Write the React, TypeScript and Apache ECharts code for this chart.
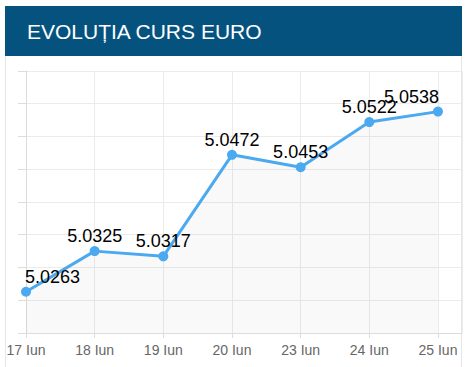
import React, { useEffect, useRef } from "react";
import * as echarts from "echarts";

const title = "EVOLUȚIA CURS EURO";
const categories = ["17 Iun", "18 Iun", "19 Iun", "20 Iun", "23 Iun", "24 Iun", "25 Iun"];
const values = [5.0263, 5.0325, 5.0317, 5.0472, 5.0453, 5.0522, 5.0538];
const yMin = 5.02;
const yMax = 5.06;
const yInterval = 0.005;

export default function App() {
  const ref = useRef<HTMLDivElement>(null);
  useEffect(() => {
    document.body.style.margin = "0";
    const chart = echarts.init(ref.current!, null, { renderer: "svg" });
    const font = "'Liberation Sans', Arial, sans-serif";
    const last = categories.length - 1;
    const data = values.map((v, i) => {
      const item: any = { value: [i, v] };
      if (i === 0) item.label = { align: "left", offset: [-1, 0] };
      if (i === last) item.label = { align: "right", offset: [1, 0] };
      return item;
    });
    chart.setOption({
      animation: false,
      backgroundColor: "#ffffff",
      textStyle: { fontFamily: font },
      grid: { left: 26, right: 6, top: 71, bottom: 34, containLabel: false },
      xAxis: {
        type: "value",
        min: 0,
        max: 6.35,
        interval: 1,
        axisLine: { show: true, lineStyle: { color: "#dcdcdc", width: 1 } },
        axisTick: { show: true, length: 5, lineStyle: { color: "#dcdcdc" } },
        splitLine: { show: true, lineStyle: { color: "#ebebeb", width: 1 } },
        axisLabel: {
          color: "#666666",
          fontSize: 14,
          margin: 10,
          fontFamily: font,
          showMaxLabel: false,
          formatter: (v: number) => (Number.isInteger(v) && categories[v] ? categories[v] : ""),
        },
      },
      yAxis: {
        type: "value",
        min: yMin,
        max: yMax,
        interval: yInterval,
        axisLine: { show: true, lineStyle: { color: "#dcdcdc", width: 1 } },
        axisTick: { show: true, length: 8, lineStyle: { color: "#dcdcdc" } },
        splitLine: { show: true, lineStyle: { color: "#ebebeb", width: 1 } },
        axisLabel: { show: false },
      },
      graphic: [
        {
          type: "rect",
          shape: { x: 5, y: 6, width: 457, height: 50 },
          style: { fill: "#05527f" },
          z: 10,
        },
        {
          type: "text",
          x: 27,
          y: 31,
          style: {
            text: title,
            fill: "#ffffff",
            font: `21px ${font}`,
            verticalAlign: "middle",
            align: "left",
          },
          z: 11,
        },
        {
          type: "line",
          shape: { x1: 5.5, y1: 56, x2: 5.5, y2: 367 },
          style: { stroke: "#e6e6e6", lineWidth: 1 },
        },
        {
          type: "line",
          shape: { x1: 461.5, y1: 56, x2: 461.5, y2: 367 },
          style: { stroke: "#e6e6e6", lineWidth: 1 },
        },
      ],
      series: [
        {
          type: "line",
          data,
          symbol: "circle",
          symbolSize: 10,
          itemStyle: { color: "#4aa9ef" },
          lineStyle: { color: "#4aa9ef", width: 3 },
          areaStyle: { color: "rgba(0,0,0,0.035)", origin: "start" },
          label: {
            show: true,
            position: "top",
            distance: 1,
            color: "#000000",
            fontSize: 18,
            fontFamily: font,
            formatter: (p: any) => p.value[1].toFixed(4),
          },
        },
      ],
    });
    return () => chart.dispose();
  }, []);
  return <div ref={ref} style={{ position: "fixed", left: 0, top: 0, width: 468, height: 367 }} />;
}
